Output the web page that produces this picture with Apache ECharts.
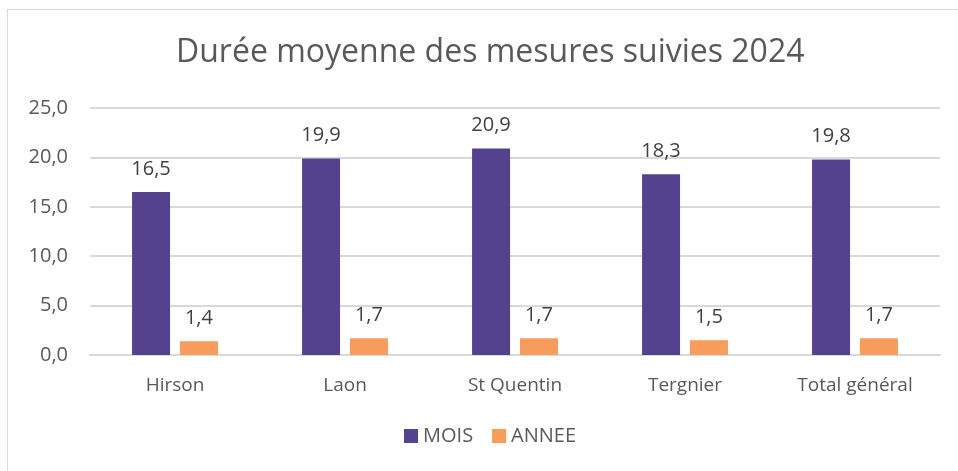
<!DOCTYPE html>
<html>
<head>
<meta charset="utf-8">
<script src="https://cdn.jsdelivr.net/npm/echarts@6/dist/echarts.min.js"></script>
<style>
  html, body { margin: 0; padding: 0; background: #fff; }
  #cadre { position: absolute; left: 7px; top: 9px; width: 1000px; height: 500px; border: 1px solid #d9d9d9; }
  #graphique { position: absolute; left: 0; top: 0; width: 958px; height: 471px; }
</style>
</head>
<body>
<div id="cadre"></div>
<div id="graphique"></div>
<script>
// Données
const sites = ['Hirson', 'Laon', 'St Quentin', 'Tergnier', 'Total général'];
const dureeMois = [16.5, 19.9, 20.9, 18.3, 19.8];
const dureeAnnee = [1.4, 1.7, 1.7, 1.5, 1.7];

const police = '"Open Sans", Lato, sans-serif';
const virgule = v => v.toFixed(1).replace('.', ',');

const chart = echarts.init(document.getElementById('graphique'));
chart.setOption({
    animation: false,
    title: {
        text: 'Durée moyenne des mesures suivies 2024',
        left: 171,
        top: 32,
        textStyle: { fontFamily: police, fontSize: 32, fontWeight: 'normal', color: '#595959' }
    },
    grid: { left: 90, right: 18, top: 108, bottom: 116 },
    legend: {
        bottom: 20,
        left: 399,
        itemWidth: 14,
        itemHeight: 14,
        itemGap: 19,
        icon: 'rect',
        textStyle: { fontFamily: police, fontSize: 20, color: '#595959' },
        data: ['MOIS', 'ANNEE']
    },
    xAxis: {
        type: 'category',
        data: sites,
        axisTick: { show: false },
        axisLine: { lineStyle: { color: '#d9d9d9', width: 2 } },
        axisLabel: { fontFamily: police, fontSize: 19, color: '#595959', margin: 21 }
    },
    yAxis: {
        type: 'value',
        min: 0,
        max: 25,
        interval: 5,
        axisLabel: { fontFamily: police, fontSize: 20, color: '#595959', margin: 22, formatter: virgule },
        splitLine: { lineStyle: { color: '#d9d9d9', width: 2 } }
    },
    series: [
        {
            name: 'MOIS',
            type: 'bar',
            data: dureeMois,
            barWidth: 38,
            barGap: '26%',
            itemStyle: { color: '#54428f' },
            label: { show: true, position: 'top', distance: 13, fontFamily: police, fontSize: 20, color: '#404040', formatter: p => virgule(p.value) }
        },
        {
            name: 'ANNEE',
            type: 'bar',
            data: dureeAnnee,
            barWidth: 38,
            itemStyle: { color: '#f79c5a' },
            label: { show: true, position: 'top', distance: 13, fontFamily: police, fontSize: 20, color: '#404040', formatter: p => virgule(p.value) }
        }
    ]
});
</script>
</body>
</html>
